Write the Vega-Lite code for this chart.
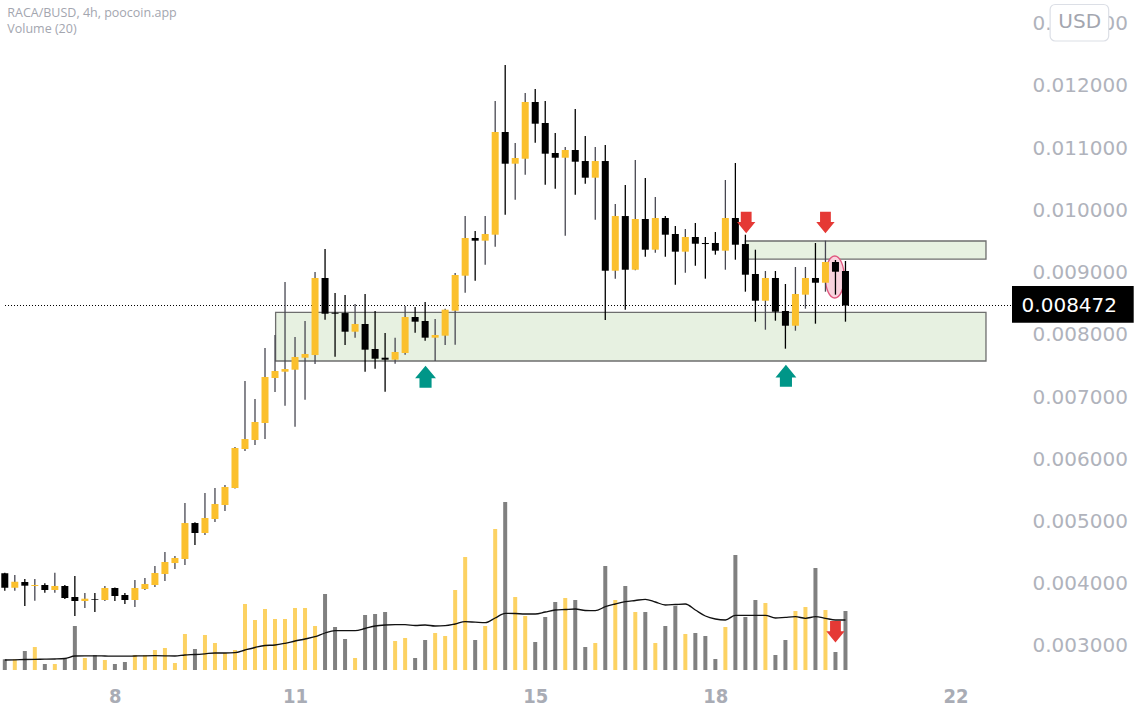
{
"$schema": "https://vega.github.io/schema/vega-lite/v6.json",
"width": 1017,
"height": 670,
"autosize": {"type": "none"},
"padding": {"left": 0, "top": 0, "right": 122, "bottom": 49},
"background": "white",
"config": {
 "view": {"stroke": null},
 "axisX": {"ticks": false, "domain": false, "grid": false, "labelFont": "DejaVu Sans Condensed, Liberation Sans, sans-serif", "labelFontWeight": "bold", "labelFontSize": 20, "labelColor": "#a9acb5", "labelPadding": 16, "labelOverlap": false, "labelFlush": false},
 "axisY": {"ticks": false, "domain": false, "grid": false, "labelFont": "DejaVu Sans", "labelFontSize": 20, "labelColor": "#b0b3bc", "labelPadding": 15, "labelOverlap": false, "labelFlush": false, "labelBaseline": "middle"}
},
"datasets": {
"candles": [
{"i":0,"o":0.004168,"h":0.004178,"l":0.003888,"c":0.003937,"v":214,"m":200,"d":"d"},
{"i":1,"o":0.003937,"h":0.004141,"l":0.003888,"c":0.004033,"v":214,"m":204,"d":"u"},
{"i":2,"o":0.004028,"h":0.004076,"l":0.003642,"c":0.003969,"v":380,"m":210,"d":"d"},
{"i":3,"o":0.003964,"h":0.004076,"l":0.003728,"c":0.003980,"v":460,"m":214,"d":"u"},
{"i":4,"o":0.003980,"h":0.004007,"l":0.003856,"c":0.003900,"v":120,"m":216,"d":"d"},
{"i":5,"o":0.003900,"h":0.004178,"l":0.003856,"c":0.003964,"v":120,"m":220,"d":"u"},
{"i":6,"o":0.003964,"h":0.003980,"l":0.003755,"c":0.003771,"v":240,"m":230,"d":"d"},
{"i":7,"o":0.003787,"h":0.004125,"l":0.003482,"c":0.003723,"v":880,"m":280,"d":"d"},
{"i":8,"o":0.003723,"h":0.003851,"l":0.003610,"c":0.003760,"v":240,"m":284,"d":"u"},
{"i":9,"o":0.003755,"h":0.003851,"l":0.003546,"c":0.003744,"v":300,"m":284,"d":"d"},
{"i":10,"o":0.003739,"h":0.003964,"l":0.003723,"c":0.003932,"v":200,"m":280,"d":"u"},
{"i":11,"o":0.003932,"h":0.003940,"l":0.003723,"c":0.003803,"v":120,"m":276,"d":"d"},
{"i":12,"o":0.003819,"h":0.003851,"l":0.003675,"c":0.003739,"v":160,"m":276,"d":"d"},
{"i":13,"o":0.003739,"h":0.004060,"l":0.003626,"c":0.003932,"v":300,"m":280,"d":"u"},
{"i":14,"o":0.003916,"h":0.004092,"l":0.003900,"c":0.003996,"v":300,"m":284,"d":"u"},
{"i":15,"o":0.003980,"h":0.004285,"l":0.003948,"c":0.004173,"v":400,"m":286,"d":"u"},
{"i":16,"o":0.004157,"h":0.004510,"l":0.004044,"c":0.004350,"v":440,"m":284,"d":"u"},
{"i":17,"o":0.004333,"h":0.004446,"l":0.004237,"c":0.004414,"v":140,"m":280,"d":"u"},
{"i":18,"o":0.004398,"h":0.005298,"l":0.004301,"c":0.004976,"v":720,"m":300,"d":"u"},
{"i":19,"o":0.004976,"h":0.004990,"l":0.004623,"c":0.004816,"v":420,"m":310,"d":"d"},
{"i":20,"o":0.004816,"h":0.005459,"l":0.004784,"c":0.005057,"v":700,"m":324,"d":"u"},
{"i":21,"o":0.005041,"h":0.005539,"l":0.004992,"c":0.005282,"v":540,"m":340,"d":"u"},
{"i":22,"o":0.005266,"h":0.005587,"l":0.005169,"c":0.005555,"v":340,"m":340,"d":"u"},
{"i":23,"o":0.005539,"h":0.006198,"l":0.005530,"c":0.006182,"v":400,"m":346,"d":"u"},
{"i":24,"o":0.006166,"h":0.007259,"l":0.006134,"c":0.006326,"v":1320,"m":400,"d":"u"},
{"i":25,"o":0.006310,"h":0.006969,"l":0.006230,"c":0.006600,"v":1000,"m":450,"d":"u"},
{"i":26,"o":0.006584,"h":0.007789,"l":0.006326,"c":0.007323,"v":1220,"m":490,"d":"u"},
{"i":27,"o":0.007307,"h":0.007998,"l":0.007082,"c":0.007419,"v":1020,"m":500,"d":"u"},
{"i":28,"o":0.007408,"h":0.008850,"l":0.006862,"c":0.007451,"v":1020,"m":534,"d":"u"},
{"i":29,"o":0.007440,"h":0.007966,"l":0.006524,"c":0.007644,"v":1240,"m":580,"d":"u"},
{"i":30,"o":0.007633,"h":0.008223,"l":0.006958,"c":0.007693,"v":1240,"m":620,"d":"u"},
{"i":31,"o":0.007676,"h":0.009010,"l":0.007532,"c":0.008914,"v":880,"m":666,"d":"u"},
{"i":32,"o":0.008914,"h":0.009380,"l":0.008244,"c":0.008340,"v":1520,"m":740,"d":"d"},
{"i":33,"o":0.008356,"h":0.008673,"l":0.007649,"c":0.008340,"v":860,"m":786,"d":"d"},
{"i":34,"o":0.008351,"h":0.008641,"l":0.007837,"c":0.008051,"v":620,"m":786,"d":"d"},
{"i":35,"o":0.008051,"h":0.008496,"l":0.007955,"c":0.008175,"v":240,"m":786,"d":"u"},
{"i":36,"o":0.008175,"h":0.008657,"l":0.007408,"c":0.007762,"v":1100,"m":830,"d":"d"},
{"i":37,"o":0.007773,"h":0.008384,"l":0.007456,"c":0.007617,"v":1120,"m":880,"d":"d"},
{"i":38,"o":0.007633,"h":0.008030,"l":0.007087,"c":0.007601,"v":1160,"m":900,"d":"d"},
{"i":39,"o":0.007601,"h":0.007955,"l":0.007537,"c":0.007725,"v":580,"m":906,"d":"u"},
{"i":40,"o":0.007709,"h":0.008464,"l":0.007681,"c":0.008287,"v":640,"m":906,"d":"u"},
{"i":41,"o":0.008287,"h":0.008448,"l":0.008035,"c":0.008212,"v":240,"m":890,"d":"d"},
{"i":42,"o":0.008223,"h":0.008528,"l":0.007906,"c":0.007955,"v":600,"m":900,"d":"d"},
{"i":43,"o":0.007955,"h":0.008255,"l":0.007580,"c":0.007998,"v":740,"m":880,"d":"u"},
{"i":44,"o":0.007987,"h":0.008421,"l":0.007837,"c":0.008405,"v":680,"m":886,"d":"u"},
{"i":45,"o":0.008388,"h":0.008994,"l":0.007842,"c":0.008962,"v":1600,"m":920,"d":"u"},
{"i":46,"o":0.008951,"h":0.009910,"l":0.008678,"c":0.009557,"v":2260,"m":966,"d":"u"},
{"i":47,"o":0.009557,"h":0.009669,"l":0.008871,"c":0.009514,"v":600,"m":956,"d":"d"},
{"i":48,"o":0.009514,"h":0.009910,"l":0.009128,"c":0.009621,"v":880,"m":946,"d":"u"},
{"i":49,"o":0.009610,"h":0.011759,"l":0.009417,"c":0.011261,"v":2820,"m":1040,"d":"u"},
{"i":50,"o":0.011261,"h":0.012337,"l":0.009931,"c":0.010751,"v":3360,"m":1134,"d":"d"},
{"i":51,"o":0.010751,"h":0.011084,"l":0.010172,"c":0.010843,"v":1460,"m":1130,"d":"u"},
{"i":52,"o":0.010831,"h":0.011887,"l":0.010574,"c":0.011743,"v":1080,"m":1120,"d":"u"},
{"i":53,"o":0.011743,"h":0.011952,"l":0.011089,"c":0.011394,"v":560,"m":1120,"d":"d"},
{"i":54,"o":0.011405,"h":0.011759,"l":0.010414,"c":0.010912,"v":1060,"m":1160,"d":"d"},
{"i":55,"o":0.010923,"h":0.011244,"l":0.010349,"c":0.010847,"v":1360,"m":1200,"d":"d"},
{"i":56,"o":0.010847,"h":0.011019,"l":0.009594,"c":0.010971,"v":1440,"m":1210,"d":"u"},
{"i":57,"o":0.010971,"h":0.011630,"l":0.010253,"c":0.010783,"v":1400,"m":1220,"d":"d"},
{"i":58,"o":0.010794,"h":0.011196,"l":0.010430,"c":0.010526,"v":460,"m":1190,"d":"d"},
{"i":59,"o":0.010526,"h":0.011019,"l":0.009851,"c":0.010794,"v":540,"m":1186,"d":"u"},
{"i":60,"o":0.010794,"h":0.011052,"l":0.008239,"c":0.009031,"v":2080,"m":1266,"d":"d"},
{"i":61,"o":0.009031,"h":0.010103,"l":0.008903,"c":0.009910,"v":1400,"m":1320,"d":"u"},
{"i":62,"o":0.009910,"h":0.010409,"l":0.008405,"c":0.009047,"v":1680,"m":1366,"d":"d"},
{"i":63,"o":0.009047,"h":0.010810,"l":0.009040,"c":0.009862,"v":1160,"m":1390,"d":"u"},
{"i":64,"o":0.009862,"h":0.010521,"l":0.009256,"c":0.009369,"v":1160,"m":1414,"d":"d"},
{"i":65,"o":0.009369,"h":0.010216,"l":0.009321,"c":0.009878,"v":540,"m":1360,"d":"u"},
{"i":66,"o":0.009878,"h":0.009910,"l":0.009256,"c":0.009610,"v":880,"m":1300,"d":"d"},
{"i":67,"o":0.009621,"h":0.009750,"l":0.008806,"c":0.009337,"v":1280,"m":1310,"d":"d"},
{"i":68,"o":0.009337,"h":0.009702,"l":0.008999,"c":0.009573,"v":720,"m":1320,"d":"u"},
{"i":69,"o":0.009573,"h":0.009798,"l":0.009112,"c":0.009465,"v":740,"m":1200,"d":"d"},
{"i":70,"o":0.009477,"h":0.009573,"l":0.008903,"c":0.009460,"v":680,"m":1080,"d":"d"},
{"i":71,"o":0.009477,"h":0.009653,"l":0.009289,"c":0.009353,"v":220,"m":1020,"d":"d"},
{"i":72,"o":0.009353,"h":0.010489,"l":0.009047,"c":0.009878,"v":860,"m":1000,"d":"u"},
{"i":73,"o":0.009878,"h":0.010762,"l":0.009208,"c":0.009449,"v":2300,"m":1094,"d":"d"},
{"i":74,"o":0.009460,"h":0.009610,"l":0.008694,"c":0.008967,"v":1060,"m":1094,"d":"d"},
{"i":75,"o":0.008978,"h":0.009369,"l":0.008212,"c":0.008549,"v":1400,"m":1094,"d":"d"},
{"i":76,"o":0.008549,"h":0.009027,"l":0.008083,"c":0.008914,"v":1340,"m":1094,"d":"u"},
{"i":77,"o":0.008914,"h":0.009027,"l":0.008228,"c":0.008372,"v":300,"m":1040,"d":"d"},
{"i":78,"o":0.008384,"h":0.008818,"l":0.007778,"c":0.008147,"v":600,"m":1054,"d":"d"},
{"i":79,"o":0.008147,"h":0.009091,"l":0.008067,"c":0.008657,"v":1180,"m":1066,"d":"u"},
{"i":80,"o":0.008646,"h":0.009091,"l":0.008421,"c":0.008914,"v":1260,"m":1034,"d":"u"},
{"i":81,"o":0.008914,"h":0.009477,"l":0.008180,"c":0.008838,"v":2040,"m":1066,"d":"d"},
{"i":82,"o":0.008838,"h":0.009514,"l":0.008694,"c":0.009171,"v":1200,"m":1034,"d":"u"},
{"i":83,"o":0.009171,"h":0.009203,"l":0.008646,"c":0.009015,"v":360,"m":1000,"d":"d"},
{"i":84,"o":0.009027,"h":0.009187,"l":0.008212,"c":0.008472,"v":1180,"m":1000,"d":"d"}
],
"zones": [
{"x1":27.06,"x2":98.04,"y1":0.008363,"y2":0.007580},
{"x1":74.0,"x2":98.04,"y1":0.009509,"y2":0.009219}
],
"down": [{"i":74.08,"p":0.009806},{"i":82.0,"p":0.009806},{"i":83.0,"p":0.003229}],
"up": [{"i":42.04,"p":0.007328},{"i":78.05,"p":0.007342}],
"ellipse": [{"i":82.93,"p":0.008930}],
"last": [{"x1":0.02,"x2":100.64,"bx2":112.8,"p":0.008472,"top":0.008785,"bot":0.008196,"tx":101.1,"label":"0.008472"}],
"usd": [{"x1":104.45,"x2":110.3,"y1":0.013310,"y2":0.012723,"tx":107.4,"p":0.013024,"label":"USD"}],
"header": [{"i":0.25,"p":0.013173,"label":"RACA/BUSD, 4h, poocoin.app","w":"bold"},{"i":0.25,"p":0.012916,"label":"Volume (20)","w":"normal"}]
},
"resolve": {"scale": {"y": "independent", "fill": "independent", "stroke": "independent"}},
"layer": [
{"data": {"name": "candles"},
 "mark": {"type": "bar", "width": 4},
 "encoding": {
  "x": {"field": "i", "type": "quantitative", "scale": {"domain": [0.02, 100.64], "nice": false, "zero": false}, "axis": {"title": null, "values": [11, 29, 53, 71, 95], "labelExpr": "datum.value == 11 ? '8' : datum.value == 29 ? '11' : datum.value == 53 ? '15' : datum.value == 71 ? '18' : '22'"}},
  "y": {"field": "v", "type": "quantitative", "scale": {"domain": [0, 13400], "nice": false}, "axis": null},
  "fill": {"field": "d", "type": "nominal", "scale": {"domain": ["u", "d"], "range": ["#fcd263", "#808080"]}, "legend": null}
 }},
{"data": {"name": "candles"},
 "mark": {"type": "line", "color": "#111111", "strokeWidth": 1.3, "interpolate": "monotone"},
 "encoding": {
  "x": {"field": "i", "type": "quantitative", "scale": {"domain": [0.02, 100.64], "nice": false, "zero": false}, "axis": {"title": null, "values": [11, 29, 53, 71, 95], "labelExpr": "datum.value == 11 ? '8' : datum.value == 29 ? '11' : datum.value == 53 ? '15' : datum.value == 71 ? '18' : '22'"}},
  "y": {"field": "m", "type": "quantitative", "scale": {"domain": [0, 13400], "nice": false}, "axis": null}
 }},
{"data": {"name": "zones"},
 "mark": {"type": "rect", "fill": "#e7f1e1", "stroke": "#6e6e6e", "strokeWidth": 1.3},
 "encoding": {
  "x": {"field": "x1", "type": "quantitative", "scale": {"domain": [0.02, 100.64], "nice": false, "zero": false}, "axis": {"title": null, "values": [11, 29, 53, 71, 95], "labelExpr": "datum.value == 11 ? '8' : datum.value == 29 ? '11' : datum.value == 53 ? '15' : datum.value == 71 ? '18' : '22'"}},
  "x2": {"field": "x2"},
  "y": {"field": "y1", "type": "quantitative", "scale": {"domain": [0.002614, 0.013382], "nice": false, "zero": false}, "axis": null},
  "y2": {"field": "y2"}
 }},
{"data": {"name": "ellipse"},
 "mark": {"type": "point", "shape": "M-0.45,0A0.45,1,0,1,0,0.45,0A0.45,1,0,1,0,-0.45,0Z", "size": 1764, "fill": "#f9d3de", "stroke": "#e0587f", "strokeWidth": 1.3, "opacity": 1, "fillOpacity": 1},
 "encoding": {
  "x": {"field": "i", "type": "quantitative", "scale": {"domain": [0.02, 100.64], "nice": false, "zero": false}, "axis": {"title": null, "values": [11, 29, 53, 71, 95], "labelExpr": "datum.value == 11 ? '8' : datum.value == 29 ? '11' : datum.value == 53 ? '15' : datum.value == 71 ? '18' : '22'"}},
  "y": {"field": "p", "type": "quantitative", "scale": {"domain": [0.002614, 0.013382], "nice": false, "zero": false}, "axis": null}
 }},
{"data": {"name": "last"},
 "mark": {"type": "rule", "color": "#000000", "strokeWidth": 1, "strokeDash": [1, 2]},
 "encoding": {
  "x": {"field": "x1", "type": "quantitative", "scale": {"domain": [0.02, 100.64], "nice": false, "zero": false}, "axis": {"title": null, "values": [11, 29, 53, 71, 95], "labelExpr": "datum.value == 11 ? '8' : datum.value == 29 ? '11' : datum.value == 53 ? '15' : datum.value == 71 ? '18' : '22'"}},
  "x2": {"field": "x2"},
  "y": {"field": "p", "type": "quantitative", "scale": {"domain": [0.002614, 0.013382], "nice": false, "zero": false}, "axis": null}
 }},
{"data": {"name": "candles"},
 "mark": {"type": "rule", "strokeWidth": 1.3},
 "encoding": {
  "x": {"field": "i", "type": "quantitative", "scale": {"domain": [0.02, 100.64], "nice": false, "zero": false}, "axis": {"title": null, "values": [11, 29, 53, 71, 95], "labelExpr": "datum.value == 11 ? '8' : datum.value == 29 ? '11' : datum.value == 53 ? '15' : datum.value == 71 ? '18' : '22'"}},
  "y": {"field": "l", "type": "quantitative", "scale": {"domain": [0.002614, 0.013382], "nice": false, "zero": false},
        "axis": {"orient": "right", "values": [0.003, 0.004, 0.005, 0.006, 0.007, 0.008, 0.009, 0.01, 0.011, 0.012, 0.013], "format": ".6f", "title": null}},
  "y2": {"field": "h"},
  "stroke": {"field": "d", "type": "nominal", "scale": {"domain": ["u", "d"], "range": ["#474751", "#000000"]}, "legend": null}
 }},
{"data": {"name": "candles"},
 "mark": {"type": "bar", "width": 7},
 "encoding": {
  "x": {"field": "i", "type": "quantitative", "scale": {"domain": [0.02, 100.64], "nice": false, "zero": false}, "axis": {"title": null, "values": [11, 29, 53, 71, 95], "labelExpr": "datum.value == 11 ? '8' : datum.value == 29 ? '11' : datum.value == 53 ? '15' : datum.value == 71 ? '18' : '22'"}},
  "y": {"field": "o", "type": "quantitative", "scale": {"domain": [0.002614, 0.013382], "nice": false, "zero": false}, "axis": null},
  "y2": {"field": "c"},
  "fill": {"field": "d", "type": "nominal", "scale": {"domain": ["u", "d"], "range": ["#fbc02d", "#000000"]}, "legend": null}
 }},
{"data": {"name": "down"},
 "mark": {"type": "point", "shape": "M-0.5,-1L0.5,-1L0.5,-0.05L0.85,-0.05L0,1L-0.85,-0.05L-0.5,-0.05Z", "size": 467, "filled": true, "color": "#e53935", "opacity": 1},
 "encoding": {
  "x": {"field": "i", "type": "quantitative", "scale": {"domain": [0.02, 100.64], "nice": false, "zero": false}, "axis": {"title": null, "values": [11, 29, 53, 71, 95], "labelExpr": "datum.value == 11 ? '8' : datum.value == 29 ? '11' : datum.value == 53 ? '15' : datum.value == 71 ? '18' : '22'"}},
  "y": {"field": "p", "type": "quantitative", "scale": {"domain": [0.002614, 0.013382], "nice": false, "zero": false}, "axis": null}
 }},
{"data": {"name": "up"},
 "mark": {"type": "point", "shape": "M-0.55,1L0.55,1L0.55,0.15L0.95,0.15L0,-1L-0.95,0.15L-0.55,0.15Z", "size": 484, "filled": true, "color": "#009688", "opacity": 1},
 "encoding": {
  "x": {"field": "i", "type": "quantitative", "scale": {"domain": [0.02, 100.64], "nice": false, "zero": false}, "axis": {"title": null, "values": [11, 29, 53, 71, 95], "labelExpr": "datum.value == 11 ? '8' : datum.value == 29 ? '11' : datum.value == 53 ? '15' : datum.value == 71 ? '18' : '22'"}},
  "y": {"field": "p", "type": "quantitative", "scale": {"domain": [0.002614, 0.013382], "nice": false, "zero": false}, "axis": null}
 }},
{"data": {"name": "last"},
 "mark": {"type": "rect", "fill": "#000000"},
 "encoding": {
  "x": {"field": "x2", "type": "quantitative", "scale": {"domain": [0.02, 100.64], "nice": false, "zero": false}, "axis": {"title": null, "values": [11, 29, 53, 71, 95], "labelExpr": "datum.value == 11 ? '8' : datum.value == 29 ? '11' : datum.value == 53 ? '15' : datum.value == 71 ? '18' : '22'"}},
  "x2": {"field": "bx2"},
  "y": {"field": "top", "type": "quantitative", "scale": {"domain": [0.002614, 0.013382], "nice": false, "zero": false}, "axis": null},
  "y2": {"field": "bot"}
 }},
{"data": {"name": "last"},
 "mark": {"type": "text", "align": "left", "baseline": "middle", "font": "DejaVu Sans", "fontSize": 20, "color": "#ffffff", "dx": 5},
 "encoding": {
  "x": {"field": "tx", "type": "quantitative", "scale": {"domain": [0.02, 100.64], "nice": false, "zero": false}, "axis": {"title": null, "values": [11, 29, 53, 71, 95], "labelExpr": "datum.value == 11 ? '8' : datum.value == 29 ? '11' : datum.value == 53 ? '15' : datum.value == 71 ? '18' : '22'"}},
  "y": {"field": "p", "type": "quantitative", "scale": {"domain": [0.002614, 0.013382], "nice": false, "zero": false}, "axis": null},
  "text": {"field": "label"}
 }},
{"data": {"name": "usd"},
 "mark": {"type": "rect", "fill": "#ffffff", "stroke": "#dcdfe6", "strokeWidth": 1.2, "cornerRadius": 5},
 "encoding": {
  "x": {"field": "x1", "type": "quantitative", "scale": {"domain": [0.02, 100.64], "nice": false, "zero": false}, "axis": {"title": null, "values": [11, 29, 53, 71, 95], "labelExpr": "datum.value == 11 ? '8' : datum.value == 29 ? '11' : datum.value == 53 ? '15' : datum.value == 71 ? '18' : '22'"}},
  "x2": {"field": "x2"},
  "y": {"field": "y1", "type": "quantitative", "scale": {"domain": [0.002614, 0.013382], "nice": false, "zero": false}, "axis": null},
  "y2": {"field": "y2"}
 }},
{"data": {"name": "usd"},
 "mark": {"type": "text", "align": "center", "baseline": "middle", "font": "DejaVu Sans", "fontSize": 20, "color": "#a3a6af"},
 "encoding": {
  "x": {"field": "tx", "type": "quantitative", "scale": {"domain": [0.02, 100.64], "nice": false, "zero": false}, "axis": {"title": null, "values": [11, 29, 53, 71, 95], "labelExpr": "datum.value == 11 ? '8' : datum.value == 29 ? '11' : datum.value == 53 ? '15' : datum.value == 71 ? '18' : '22'"}},
  "y": {"field": "p", "type": "quantitative", "scale": {"domain": [0.002614, 0.013382], "nice": false, "zero": false}, "axis": null},
  "text": {"field": "label"}
 }},
{"data": {"name": "header"},
 "mark": {"type": "text", "align": "left", "baseline": "middle", "font": "Open Sans", "fontSize": 12.5, "color": "#a3a6af"},
 "encoding": {
  "x": {"field": "i", "type": "quantitative", "scale": {"domain": [0.02, 100.64], "nice": false, "zero": false}, "axis": {"title": null, "values": [11, 29, 53, 71, 95], "labelExpr": "datum.value == 11 ? '8' : datum.value == 29 ? '11' : datum.value == 53 ? '15' : datum.value == 71 ? '18' : '22'"}},
  "y": {"field": "p", "type": "quantitative", "scale": {"domain": [0.002614, 0.013382], "nice": false, "zero": false}, "axis": null},
  "text": {"field": "label"},
  "fontWeight": {"field": "w", "type": "nominal", "scale": {"domain": ["bold", "normal"], "range": [600, 400]}, "legend": null}
 }}
]
}
